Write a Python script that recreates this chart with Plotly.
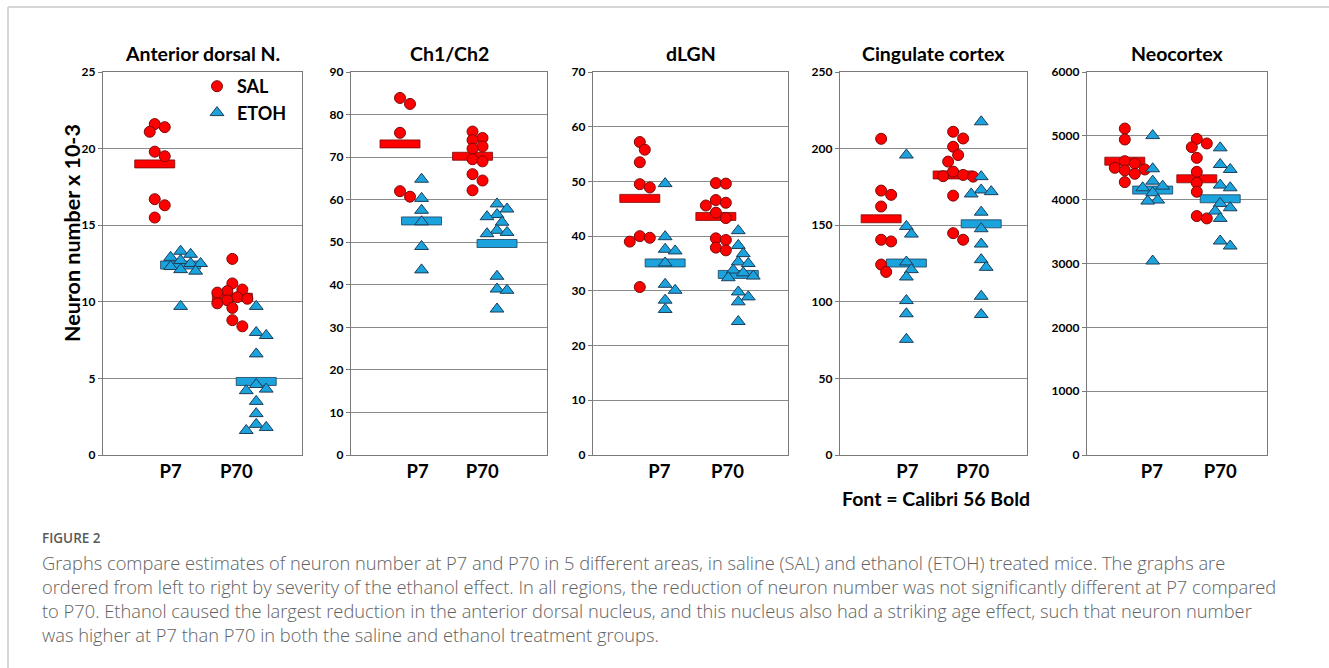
import plotly.graph_objects as go

W, H = 1329, 668

# ---------------- data ----------------
regions = ["Anterior dorsal N.", "Ch1/Ch2", "dLGN", "Cingulate cortex", "Neocortex"]
age_labels = ["P7", "P70"]

ad_sal_p7 = [21.6, 21.4, 21.1, 19.8, 19.5, 16.7, 16.3, 15.5]
ad_etoh_p7 = [13.3, 13.1, 12.9, 12.7, 12.5, 12.5, 12.3, 12.1, 12.0, 9.7]
ad_sal_p70 = [12.8, 11.2, 10.8, 10.7, 10.6, 10.3, 10.2, 10.1, 9.9, 9.6, 8.8, 8.4]
ad_etoh_p70 = [9.7, 8.0, 7.8, 6.6, 4.6, 4.3, 4.2, 3.5, 2.7, 2.0, 1.8, 1.6]
ad_means = [19.0, 12.4, 10.3, 4.8]

ch_sal_p7 = [83.9, 82.5, 75.7, 62.0, 60.7]
ch_etoh_p7 = [64.8, 60.3, 57.5, 54.8, 49.0, 43.5]
ch_sal_p70 = [76.0, 74.5, 74.0, 72.5, 72.0, 69.5, 69.0, 66.0, 64.5, 62.2]
ch_etoh_p70 = [59.0, 57.8, 56.5, 56.0, 54.7, 52.8, 52.3, 52.0, 42.0, 39.0, 38.7, 34.3]
ch_means = [73.1, 55.0, 70.2, 49.7]

lgn_sal_p7 = [57.2, 55.8, 53.5, 49.5, 48.9, 40.0, 39.7, 39.0, 30.7]
lgn_etoh_p7 = [49.6, 39.9, 37.6, 37.3, 35.1, 31.2, 30.1, 28.3, 26.6]
lgn_sal_p70 = [49.7, 49.6, 46.6, 46.1, 45.6, 44.3, 43.3, 39.6, 39.3, 37.9, 37.4]
lgn_etoh_p70 = [41.0, 38.3, 36.8, 35.3, 35.0, 33.8, 33.3, 32.7, 32.4, 29.8, 28.9, 28.0, 24.4]
lgn_means = [46.9, 35.1, 43.6, 33.0]

cg_sal_p7 = [206.4, 172.6, 169.8, 162.2, 140.5, 139.4, 124.3, 119.5]
cg_etoh_p7 = [195.8, 149.2, 144.2, 126.0, 121.0, 116.2, 100.8, 92.2, 75.5]
cg_sal_p70 = [211.0, 206.6, 201.2, 195.8, 191.5, 185.0, 182.8, 182.0, 181.7, 169.3, 144.8, 140.5]
cg_etoh_p70 = [217.5, 181.7, 173.0, 171.9, 170.4, 158.5, 147.7, 137.7, 127.5, 122.5, 103.6, 91.7]
cg_means = [154.2, 125.3, 182.8, 150.9]

nc_sal_p7 = [5114, 4942, 4603, 4566, 4499, 4473, 4458, 4405, 4275]
nc_etoh_p7 = [5004, 4484, 4290, 4212, 4186, 4108, 3994, 3978, 3039]
nc_sal_p70 = [4952, 4880, 4822, 4655, 4436, 4264, 4124, 3743, 3706]
nc_etoh_p70 = [4812, 4551, 4473, 4228, 4186, 3941, 3873, 3821, 3706, 3352, 3274]
nc_means = [4603, 4150, 4327, 4014]

y_max = [25, 90, 70, 250, 6000]
y_step = [5, 10, 10, 50, 1000]

caption_label = "FIGURE 2"
caption_lines = [
    "Graphs compare estimates of neuron number at P7 and P70 in 5 different areas, in saline (SAL) and ethanol (ETOH) treated mice. The graphs are",
    "ordered from left to right by severity of the ethanol effect. In all regions, the reduction of neuron number was not significantly different at P7 compared",
    "to P70. Ethanol caused the largest reduction in the anterior dorsal nucleus, and this nucleus also had a striking age effect, such that neuron number",
    "was higher at P7 than P70 in both the saline and ethanol treatment groups.",
]

groups = [
    [ad_sal_p7, ad_etoh_p7, ad_sal_p70, ad_etoh_p70],
    [ch_sal_p7, ch_etoh_p7, ch_sal_p70, ch_etoh_p70],
    [lgn_sal_p7, lgn_etoh_p7, lgn_sal_p70, lgn_etoh_p70],
    [cg_sal_p7, cg_etoh_p7, cg_sal_p70, cg_etoh_p70],
    [nc_sal_p7, nc_etoh_p7, nc_sal_p70, nc_etoh_p70],
]
means = [ad_means, ch_means, lgn_means, cg_means, nc_means]

# ---------------- layout geometry ----------------
panel_px = [(103, 302), (351, 547), (593, 788), (840, 1027), (1087, 1267)]
top_px, bot_px = 72, 455
group_pos = [
    [0.26, 0.39, 0.65, 0.77],
    [0.25, 0.36, 0.62, 0.745],
    [0.24, 0.37, 0.63, 0.745],
    [0.22, 0.355, 0.605, 0.755],
    [0.21, 0.365, 0.61, 0.74],
]
label_pos = [[0.34, 0.67], [0.34, 0.67], [0.34, 0.69], [0.36, 0.71], [0.36, 0.74]]

RED = "#ff0000"
RED_EDGE = "#7a0a0a"
BLUE = "#1ba3de"
BLUE_EDGE = "#1d3d57"
GRID = "#8a8a8a"
AXLINE = "#7a7a7a"


def py(v):
    """pixel row -> paper fraction"""
    return 1 - v / H


def swarm(vals, px_per_unit, px_per_x, step=5.0, mind=8.5):
    order = sorted(range(len(vals)), key=lambda i: -vals[i])
    placed = []
    offs = [0.0] * len(vals)
    cands = [0.0]
    for j in range(1, 12):
        cands += [j * step, -j * step]
    for i in order:
        yp = vals[i] * px_per_unit
        for c in cands:
            if all((px - c) ** 2 + (pyy - yp) ** 2 >= mind ** 2 for (px, pyy) in placed):
                offs[i] = c
                placed.append((c, yp))
                break
    return [o / px_per_x for o in offs]


fig = go.Figure()
shapes = []
annotations = []

for p in range(5):
    x0p, x1p = panel_px[p]
    axn = "" if p == 0 else str(p + 1)
    xa, ya = "x" + axn, "y" + axn
    px_per_unit = (bot_px - top_px) / y_max[p]
    px_per_x = (x1p - x0p)
    for g in range(4):
        vals = groups[p][g]
        sal = g % 2 == 0
        offs = swarm(vals, px_per_unit, px_per_x)
        xs = [group_pos[p][g] + o for o in offs]
        fig.add_trace(go.Scatter(
            x=xs, y=vals, mode="markers", xaxis=xa, yaxis=ya,
            name="SAL" if sal else "ETOH",
            legendgroup="SAL" if sal else "ETOH",
            showlegend=(p == 0 and g < 2),
            marker=dict(
                symbol="circle" if sal else "triangle-up",
                size=11 if sal else 12,
                color=RED if sal else BLUE,
                line=dict(color=RED_EDGE if sal else BLUE_EDGE, width=1),
            ),
            hoverinfo="skip",
        ))
        shapes.append(dict(
            type="rect", xref=xa, yref=ya, layer="between",
            xsizemode="pixel", xanchor=group_pos[p][g], x0=-20, x1=20,
            ysizemode="pixel", yanchor=means[p][g], y0=-4, y1=4,
            fillcolor=RED if sal else BLUE,
            line=dict(color=RED_EDGE if sal else BLUE_EDGE, width=0.8),
        ))

    fig.layout["xaxis" + axn] = dict(
        domain=[x0p / W, x1p / W], range=[0, 1], anchor=ya, fixedrange=True,
        showgrid=False, zeroline=False,
        showline=True, mirror=True, linecolor=AXLINE, linewidth=1.3,
        tickmode="array", tickvals=label_pos[p], ticktext=age_labels,
        ticks="", tickfont=dict(family="Lato", size=18.5, color="black", weight="bold"),
    )
    fig.layout["yaxis" + axn] = dict(
        domain=[py(bot_px), py(top_px)], range=[0, y_max[p]], anchor=xa, fixedrange=True,
        tickmode="linear", tick0=0, dtick=y_step[p],
        showgrid=True, gridcolor=GRID, gridwidth=1.2, zeroline=False,
        showline=True, mirror=True, linecolor=AXLINE, linewidth=1.3,
        ticks="outside", ticklen=4, tickcolor=AXLINE,
        tickfont=dict(family="Lato", size=12, color="black", weight="bold"),
    )
    annotations.append(dict(
        text=regions[p], xref="paper", yref="paper",
        x=(x0p + x1p) / 2 / W, y=py(53), showarrow=False,
        xanchor="center", yanchor="middle",
        font=dict(family="Lato", size=19.5, color="black", weight="bold"),
    ))

annotations.append(dict(
    text="Neuron number x 10-3", xref="paper", yref="paper",
    x=72 / W, y=py(233), textangle=-90, showarrow=False,
    xanchor="center", yanchor="middle",
    font=dict(family="Lato", size=21.5, color="black", weight="bold"),
))
annotations.append(dict(
    text="Font = Calibri 56 Bold", xref="paper", yref="paper",
    x=936 / W, y=py(498), showarrow=False,
    xanchor="center", yanchor="middle",
    font=dict(family="Lato", size=19.5, color="black", weight="bold"),
))
annotations.append(dict(
    text=caption_label, xref="paper", yref="paper",
    x=40 / W, y=py(538), showarrow=False,
    xanchor="left", yanchor="middle",
    font=dict(family="Open Sans", size=13.5, color="#5a5a5a", weight=600),
))
for i, line in enumerate(caption_lines):
    annotations.append(dict(
        text=line, xref="paper", yref="paper",
        x=40 / W, y=py(562 + 24.3 * i), showarrow=False,
        xanchor="left", yanchor="middle",
        font=dict(family="Open Sans", size=18.3, color="#626262", weight=300),
    ))

# frame lines
shapes.append(dict(type="line", xref="paper", yref="paper",
                   x0=8 / W, x1=1.0, y0=py(7), y1=py(7),
                   line=dict(color="#c8c8c8", width=1.5)))
shapes.append(dict(type="line", xref="paper", yref="paper",
                   x0=8 / W, x1=8 / W, y0=0, y1=py(7),
                   line=dict(color="#c8c8c8", width=1.5)))

fig.update_layout(
    width=W, height=H, autosize=False,
    margin=dict(l=0, r=0, t=0, b=0, pad=0, autoexpand=False),
    paper_bgcolor="white", plot_bgcolor="white",
    shapes=shapes, annotations=annotations,
    showlegend=True,
    legend=dict(
        x=197 / W, y=py(68), xanchor="left", yanchor="top",
        bgcolor="rgba(0,0,0,0)", itemwidth=30,
        font=dict(family="Lato", size=18, color="black", weight="bold"),
        tracegroupgap=0, itemclick=False, itemdoubleclick=False,
    ),
)

fig.write_html(
    "out.html",
    config={"displayModeBar": False, "responsive": False},
    post_script="document.body.style.margin='0';",
)
